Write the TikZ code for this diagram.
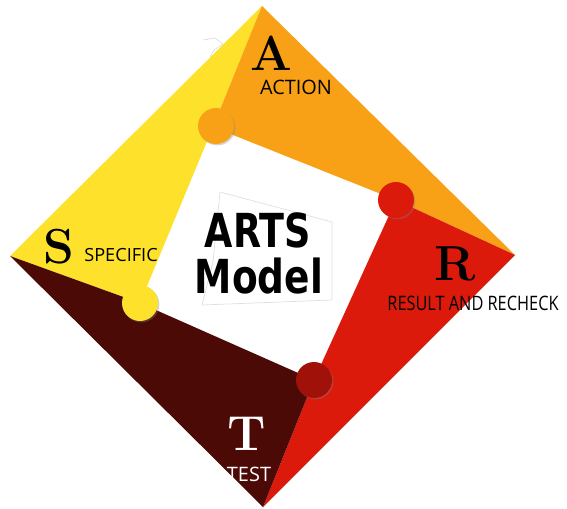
\documentclass[tikz,border=0pt]{standalone}
\usepackage{fontspec}
\usepackage{graphicx}
\usetikzlibrary{shadows}
\newfontfamily\labelfont{Open Sans}
\newfontfamily\titlefont{DejaVu Sans}
\definecolor{artsyellow}{HTML}{FDE12B}
\definecolor{artsorange}{HTML}{F9A116}
\definecolor{artsred}{HTML}{DC1A0C}
\definecolor{artsbrown}{HTML}{4B0A06}
\definecolor{artsmaroon}{HTML}{A0110A}
\tikzset{
  hub/.style={circle, minimum size=1.08cm, inner sep=0pt,
    drop shadow={shadow xshift=1.2pt, shadow yshift=-1.2pt, opacity=.35}},
  initial/.style={font=\rmfamily\bfseries\addfontfeatures{FakeBold=2}\fontsize{42}{42}\selectfont, inner sep=0pt},
  caption/.style={font=\labelfont\fontsize{17}{17}\selectfont, inner sep=0pt},
  title/.style={font=\titlefont\bfseries\fontsize{40}{40}\selectfont, inner sep=0pt}
}
\begin{document}
\begin{tikzpicture}[x=0.03cm, y=-0.03cm]
  \useasboundingbox (0,0) rectangle (567,508);
  % outer corners and inner corners
  \coordinate (top) at (262,6);
  \coordinate (right) at (515,255);
  \coordinate (bottom) at (263,507);
  \coordinate (left) at (10,256);
  \coordinate (inA) at (213,127);
  \coordinate (inR) at (396,200);
  \coordinate (inT) at (314,380);
  \coordinate (inS) at (140,303);
  % the four bands
  \foreach \p/\q/\r/\s/\col in {left/top/inA/inS/artsyellow,
      top/right/inR/inA/artsorange,
      right/bottom/inT/inR/artsred,
      bottom/left/inS/inT/artsbrown}
    \fill[\col] (\p) -- (\q) -- (\r) -- (\s) -- cycle;
  % faint outline behind the title
  \draw[gray!25, line width=0.6pt] (220,192) -- (332,222) -- (332,300) -- (202,305) -- (213,262) -- cycle;
  \draw[gray!30, line width=0.5pt] (203,40) -- (215,38) -- (223,44) -- (214,50) -- (210,57);
  % hubs
  \node[hub, fill=artsorange] (hubA) at (216,126) {};
  \node[hub, fill=artsred] (hubR) at (396,200) {};
  \node[hub, fill=artsmaroon] (hubT) at (314,380) {};
  \node[hub, fill=artsyellow] (hubS) at (140,303) {};
  % letters and labels
  \node[initial] (letA) at (271,53) {A};
  \node[caption] (labA) at (296,87) {ACTION};
  \node[initial] (letS) at (59,247) {S};
  \node[caption, font=\labelfont\fontsize{15.5}{15.5}\selectfont] (labS) at (121,255) {SPECIFIC};
  \node[initial] (letR) at (455,264) {R};
  \node[caption] (labR) at (473,303) {\scalebox{0.82}[1]{RESULT AND RECHECK}};
  \node[initial, white] (letT) at (247,434) {T};
  \node[caption, white] (labT) at (249,474) {TEST};
  % title
  \node[title] (arts) at (258,230) {\scalebox{0.78}[1]{ARTS}};
  \node[title] (model) at (259,276) {\scalebox{0.8}[1]{Model}};
\end{tikzpicture}
\end{document}
